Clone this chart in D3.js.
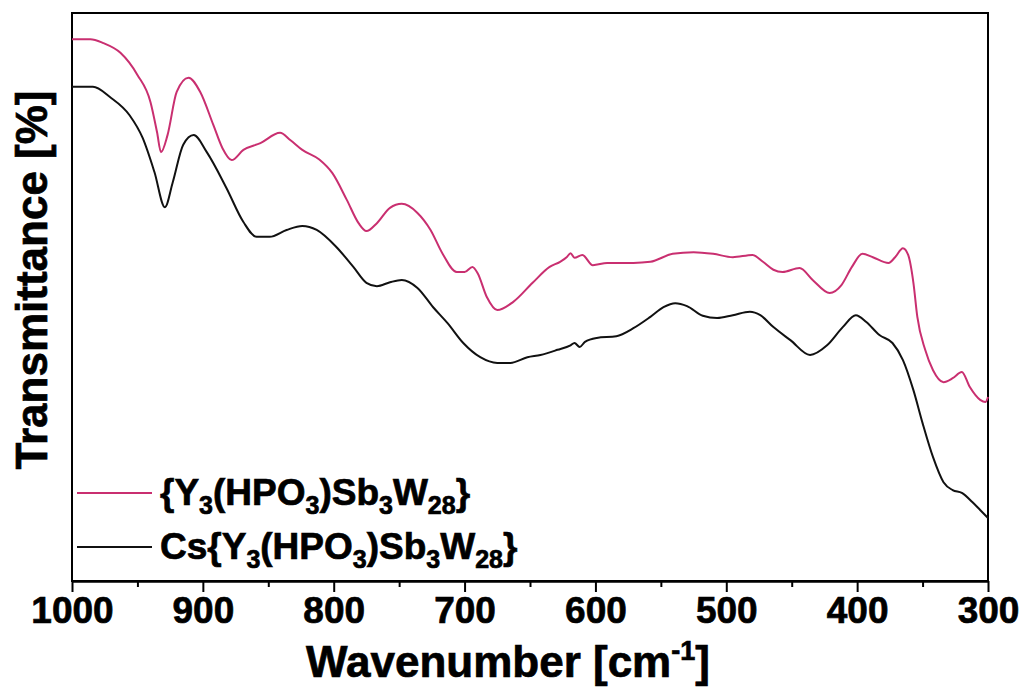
<!DOCTYPE html>
<html>
<head>
<meta charset="utf-8">
<script src="https://cdn.jsdelivr.net/npm/d3@7"></script>
<style>
  html, body { margin: 0; padding: 0; background: #fff; }
  svg { display: block; }
  text { font-family: "Liberation Sans", Arial, sans-serif; font-weight: bold; fill: #000; stroke: #000; stroke-width: 0.7px; }
</style>
</head>
<body>
<svg id="chart" width="1025" height="692"></svg>
<script>
// FT-IR spectra, wavenumber (cm-1) vs. transmittance (arb. units)
const wnA = [1000, 986, 976, 963, 950, 940, 935, 932, 927, 920, 911, 902, 892, 885, 878, 869, 856, 841, 833, 824, 811, 801, 790, 781, 775, 767, 757, 748, 736, 726, 717, 706, 700, 694, 690, 683, 675, 663, 648, 635, 627, 622, 619, 616, 610, 602, 591, 571, 558, 541, 525, 510, 495, 480, 472, 464, 457, 444, 434, 421, 412, 404, 396, 388, 376, 371, 365, 361, 357, 354, 348, 342, 334, 327, 320, 314, 306, 302, 300];
const tA  = [95.4, 95.4, 94.7, 93.0, 89.1, 84.3, 79.0, 75.5, 78.5, 86.1, 88.6, 86.1, 80.3, 76.2, 74.1, 75.9, 77.1, 78.9, 77.6, 75.9, 74.2, 71.8, 67.1, 63.0, 61.6, 63.0, 65.7, 66.4, 64.8, 61.8, 57.7, 54.4, 54.4, 55.3, 54.2, 50.0, 47.7, 49.1, 52.5, 55.3, 56.2, 57.0, 57.7, 56.9, 57.4, 55.6, 56.0, 56.0, 56.2, 57.6, 57.9, 57.6, 57.0, 57.4, 56.2, 54.8, 54.4, 55.1, 53.0, 50.7, 52.1, 55.3, 57.6, 57.0, 56.0, 57.0, 58.6, 57.4, 52.5, 46.5, 40.7, 37.1, 35.0, 35.7, 36.8, 34.2, 31.9, 31.5, 32.4];

const wnB = [1000, 984, 971, 956, 946, 937, 929, 923, 915, 907, 897, 882, 869, 859, 849, 836, 824, 813, 798, 785, 775, 767, 757, 748, 736, 724, 713, 701, 688, 675, 665, 652, 642, 629, 619, 616, 612, 608, 599, 584, 571, 558, 548, 539, 530, 518, 507, 495, 482, 474, 464, 451, 436, 423, 411, 401, 393, 383, 373, 365, 357, 350, 342, 334, 327, 320, 312, 306, 300];
const tB  = [87.0, 87.0, 85.2, 82.0, 78.0, 72.0, 65.8, 70.2, 76.8, 78.5, 75.5, 69.2, 63.2, 60.6, 60.6, 61.8, 62.5, 61.8, 58.8, 55.3, 52.5, 51.9, 52.6, 53.0, 51.6, 48.2, 45.4, 41.9, 39.4, 38.4, 38.4, 39.4, 39.8, 40.7, 41.5, 41.9, 41.2, 42.1, 42.8, 43.1, 44.5, 46.5, 48.2, 48.9, 48.4, 46.7, 46.3, 46.8, 47.4, 46.8, 44.7, 42.4, 39.8, 41.5, 44.7, 46.8, 45.6, 43.3, 41.9, 38.9, 33.6, 27.8, 21.8, 17.4, 16.0, 15.5, 13.9, 12.5, 11.1];

const majorTicks = [1000, 900, 800, 700, 600, 500, 400, 300];
const minorTicks = [950, 850, 750, 650, 550, 450, 350];

const seriesNames = ["{Y3(HPO3)Sb3W28}", "Cs{Y3(HPO3)Sb3W28}"];
const seriesColors = ["#c92f70", "#111111"];

const svg = d3.select("#chart");
const plot = { left: 72, right: 988, top: 13, bottom: 581 };

const x = d3.scaleLinear().domain([1000, 300]).range([plot.left, plot.right]);
const y = d3.scaleLinear().domain([0, 100]).range([plot.bottom, plot.top]);

// plot frame
svg.append("rect")
  .attr("x", plot.left).attr("y", plot.top)
  .attr("width", plot.right - plot.left).attr("height", plot.bottom - plot.top)
  .attr("fill", "none").attr("stroke", "#000").attr("stroke-width", 2);

// spectra
const line = d3.line()
  .x(d => x(d[0])).y(d => y(d[1]))
  .curve(d3.curveMonotoneX);

const series = [d3.zip(wnA, tA), d3.zip(wnB, tB)];
series.forEach((pts, i) => {
  svg.append("path")
    .datum(pts)
    .attr("d", line)
    .attr("fill", "none")
    .attr("stroke", seriesColors[i])
    .attr("stroke-width", 2)
    .attr("stroke-linejoin", "round");
});

// bottom axis: labelled major ticks and short minor ticks
const axisMajor = svg.append("g")
  .attr("transform", `translate(0,${plot.bottom})`)
  .call(d3.axisBottom(x).tickValues(majorTicks).tickSize(11).tickSizeOuter(0).tickPadding(5).tickFormat(d3.format("d")));
axisMajor.select(".domain").attr("stroke-width", 2.5);
axisMajor.selectAll(".tick line").attr("stroke-width", 2);
axisMajor.selectAll(".tick text")
  .attr("font-size", 37).attr("font-family", "Liberation Sans, Arial, sans-serif")
  .attr("font-weight", "bold").attr("fill", "#000");

const axisMinor = svg.append("g")
  .attr("transform", `translate(0,${plot.bottom})`)
  .call(d3.axisBottom(x).tickValues(minorTicks).tickSize(6).tickSizeOuter(0).tickFormat(""));
axisMinor.select(".domain").remove();
axisMinor.selectAll(".tick line").attr("stroke-width", 2);

// axis titles
const xTitle = svg.append("text")
  .attr("x", (plot.left + plot.right) / 2 - 22)
  .attr("y", 677)
  .attr("text-anchor", "middle")
  .attr("font-size", 44);
xTitle.append("tspan").text("Wavenumber [cm");
xTitle.append("tspan").attr("font-size", 27).attr("dy", -17).text("-1");
xTitle.append("tspan").attr("dy", 17).text("]");

svg.append("text")
  .attr("transform", "translate(47,280) rotate(-90)")
  .attr("text-anchor", "middle")
  .attr("font-size", 44)
  .text("Transmittance [%]");

// legend with subscripted formula
const legendY = [493, 547];
function writeFormula(sel, name) {
  const parts = name.match(/[0-9]+|[^0-9]+/g);
  let sub = false;
  parts.forEach(p => {
    const isNum = /^[0-9]+$/.test(p);
    const t = sel.append("tspan").text(p);
    if (isNum && !sub) { t.attr("dy", 9).attr("font-size", 25); sub = true; }
    else if (isNum) { t.attr("font-size", 25); }
    else if (!isNum && sub) { t.attr("dy", -9); sub = false; }
  });
}
seriesNames.forEach((name, i) => {
  svg.append("line")
    .attr("x1", 77).attr("x2", 152)
    .attr("y1", legendY[i]).attr("y2", legendY[i])
    .attr("stroke", seriesColors[i]).attr("stroke-width", 2);
  const t = svg.append("text")
    .attr("x", 160).attr("y", legendY[i] + 12)
    .attr("font-size", 37);
  writeFormula(t, name);
});
</script>
</body>
</html>
